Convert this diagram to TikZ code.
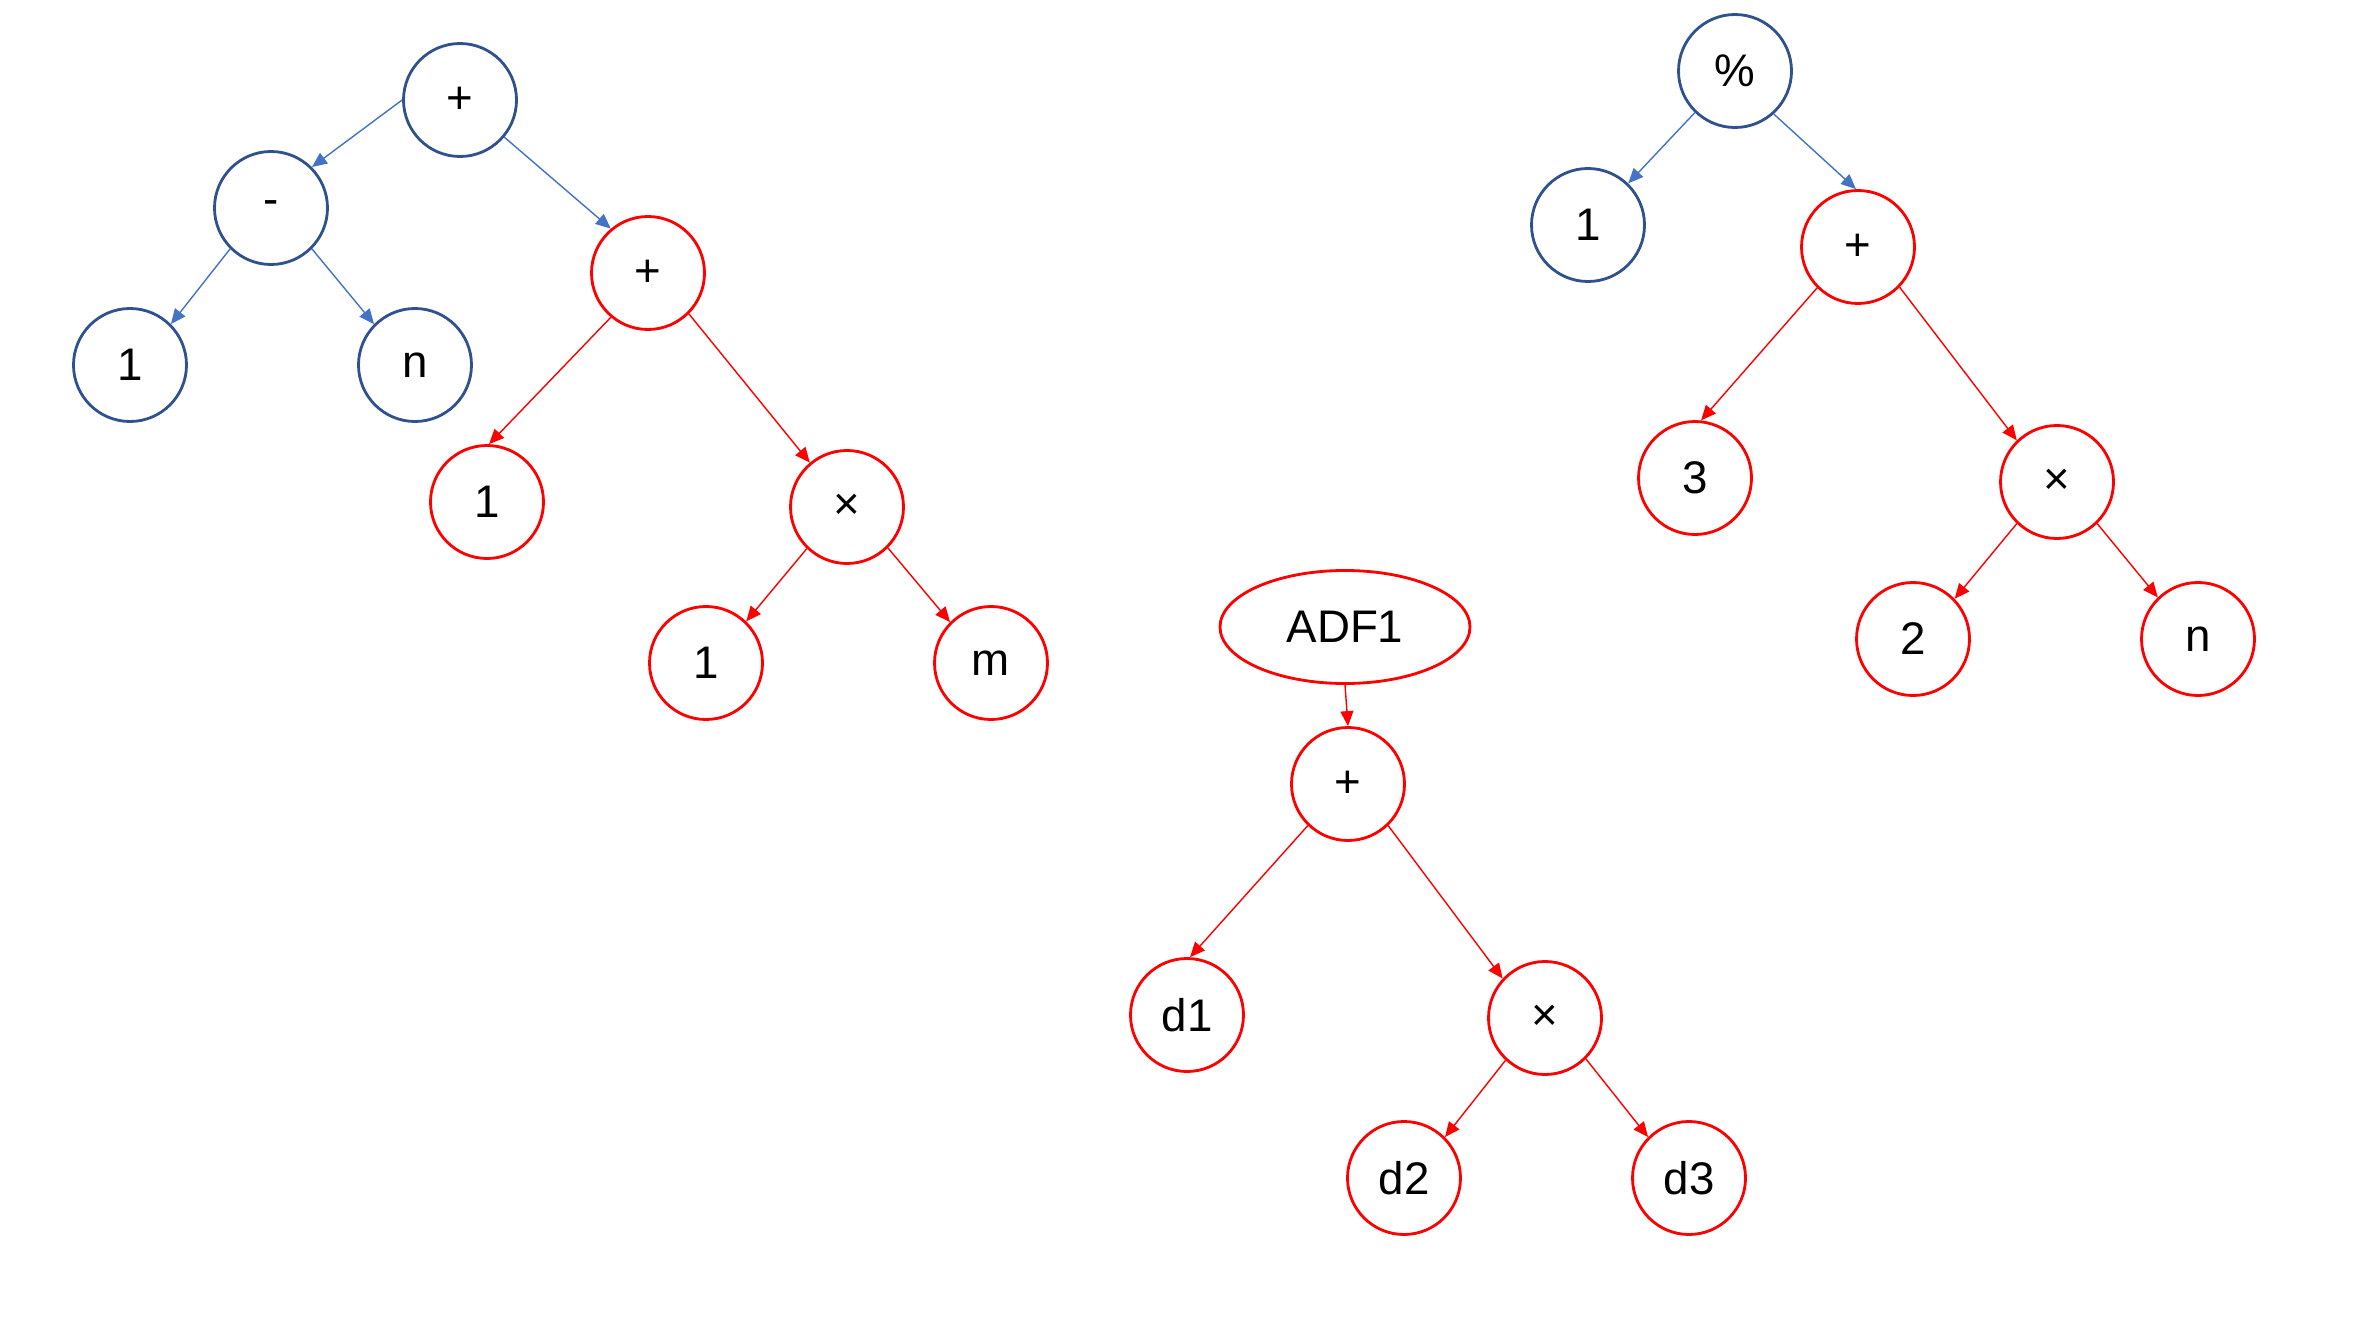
\documentclass[tikz,border=0pt]{standalone}
\usepackage{fontspec}
\setmainfont{Liberation Sans}
\usetikzlibrary{arrows.meta}
\usetikzlibrary{shapes.geometric}

\definecolor{bline}{HTML}{2F528F}
\definecolor{barr}{HTML}{4472C4}

\begin{document}
\begin{tikzpicture}[
  bnode/.style={circle,draw=bline,line width=0.8pt,minimum size=1.13cm,inner sep=0pt,font=\fontsize{13}{15}\selectfont},
  rnode/.style={circle,draw=red,line width=0.8pt,minimum size=1.13cm,inner sep=0pt,font=\fontsize{13}{15}\selectfont},
  barrow/.style={draw=barr,line width=0.4pt,-{Triangle[length=1.5mm,width=1.3mm]}},
  rarrow/.style={draw=red,line width=0.4pt,-{Triangle[length=1.5mm,width=1.3mm]}}
]
\useasboundingbox (0,0) rectangle (23.64,13.18);

% left tree
\node[bnode] (lroot) at (4.60,12.18) {+};
\node[bnode] (lminus) at (2.71,11.10) {-};
\node[bnode] (lone) at (1.30,9.53) {1};
\node[bnode] (ln) at (4.15,9.53) {n};
\node[rnode] (lplus) at (6.48,10.45) {+};
\node[rnode] (ltwo) at (4.87,8.16) {1};
\node[rnode] (ltimes) at (8.47,8.11) {×};
\node[rnode] (lthree) at (7.06,6.55) {1};
\node[rnode] (lm) at (9.91,6.55) {m};

\draw[barrow] (lroot.west) -- (lminus.45);
\draw[barrow] (lroot.-40) -- (lplus.130);
\draw[barrow] (lminus.-135) -- (lone.45);
\draw[barrow] (lminus.-45) -- (ln.135);
\draw[rarrow] (lplus.-130) -- (ltwo.88);
\draw[rarrow] (lplus.-45) -- (ltimes.130);
\draw[rarrow] (ltimes.-134) -- (lthree.46);
\draw[rarrow] (ltimes.-45) -- (lm.135);

% right tree
\node[bnode] (rroot) at (17.35,12.47) {\%};
\node[bnode] (rone) at (15.88,10.93) {1};
\node[rnode] (rplus) at (18.58,10.71) {+};
\node[rnode] (rthree) at (16.95,8.40) {3};
\node[rnode] (rtimes) at (20.57,8.36) {×};
\node[rnode] (rtwo) at (19.13,6.79) {2};
\node[rnode] (rn) at (21.98,6.79) {n};

\draw[barrow] (rroot.-134) -- (rone.46);
\draw[barrow] (rroot.-48) -- (rplus.92);
\draw[rarrow] (rplus.-135) -- (rthree.84);
\draw[rarrow] (rplus.-44) -- (rtimes.134);
\draw[rarrow] (rtimes.-134) -- (rtwo.44);
\draw[rarrow] (rtimes.-46) -- (rn.134);

% ADF1 tree
\node[ellipse,draw=red,line width=0.8pt,minimum width=2.50cm,minimum height=1.13cm,inner sep=0pt,font=\fontsize{13}{15}\selectfont] (adf) at (13.45,6.91) {ADF1};
\node[rnode] (mplus) at (13.48,5.34) {+};
\node[rnode] (done) at (11.87,3.03) {d1};
\node[rnode] (mtimes) at (15.45,3.00) {×};
\node[rnode] (dtwo) at (14.04,1.40) {d2};
\node[rnode] (dthree) at (16.89,1.40) {d3};

\draw[rarrow] (adf.south) -- (mplus.north);
\draw[rarrow] (mplus.-134) -- (done.87);
\draw[rarrow] (mplus.-46) -- (mtimes.137);
\draw[rarrow] (mtimes.-133) -- (dtwo.45);
\draw[rarrow] (mtimes.-45) -- (dthree.135);

\end{tikzpicture}
\end{document}
